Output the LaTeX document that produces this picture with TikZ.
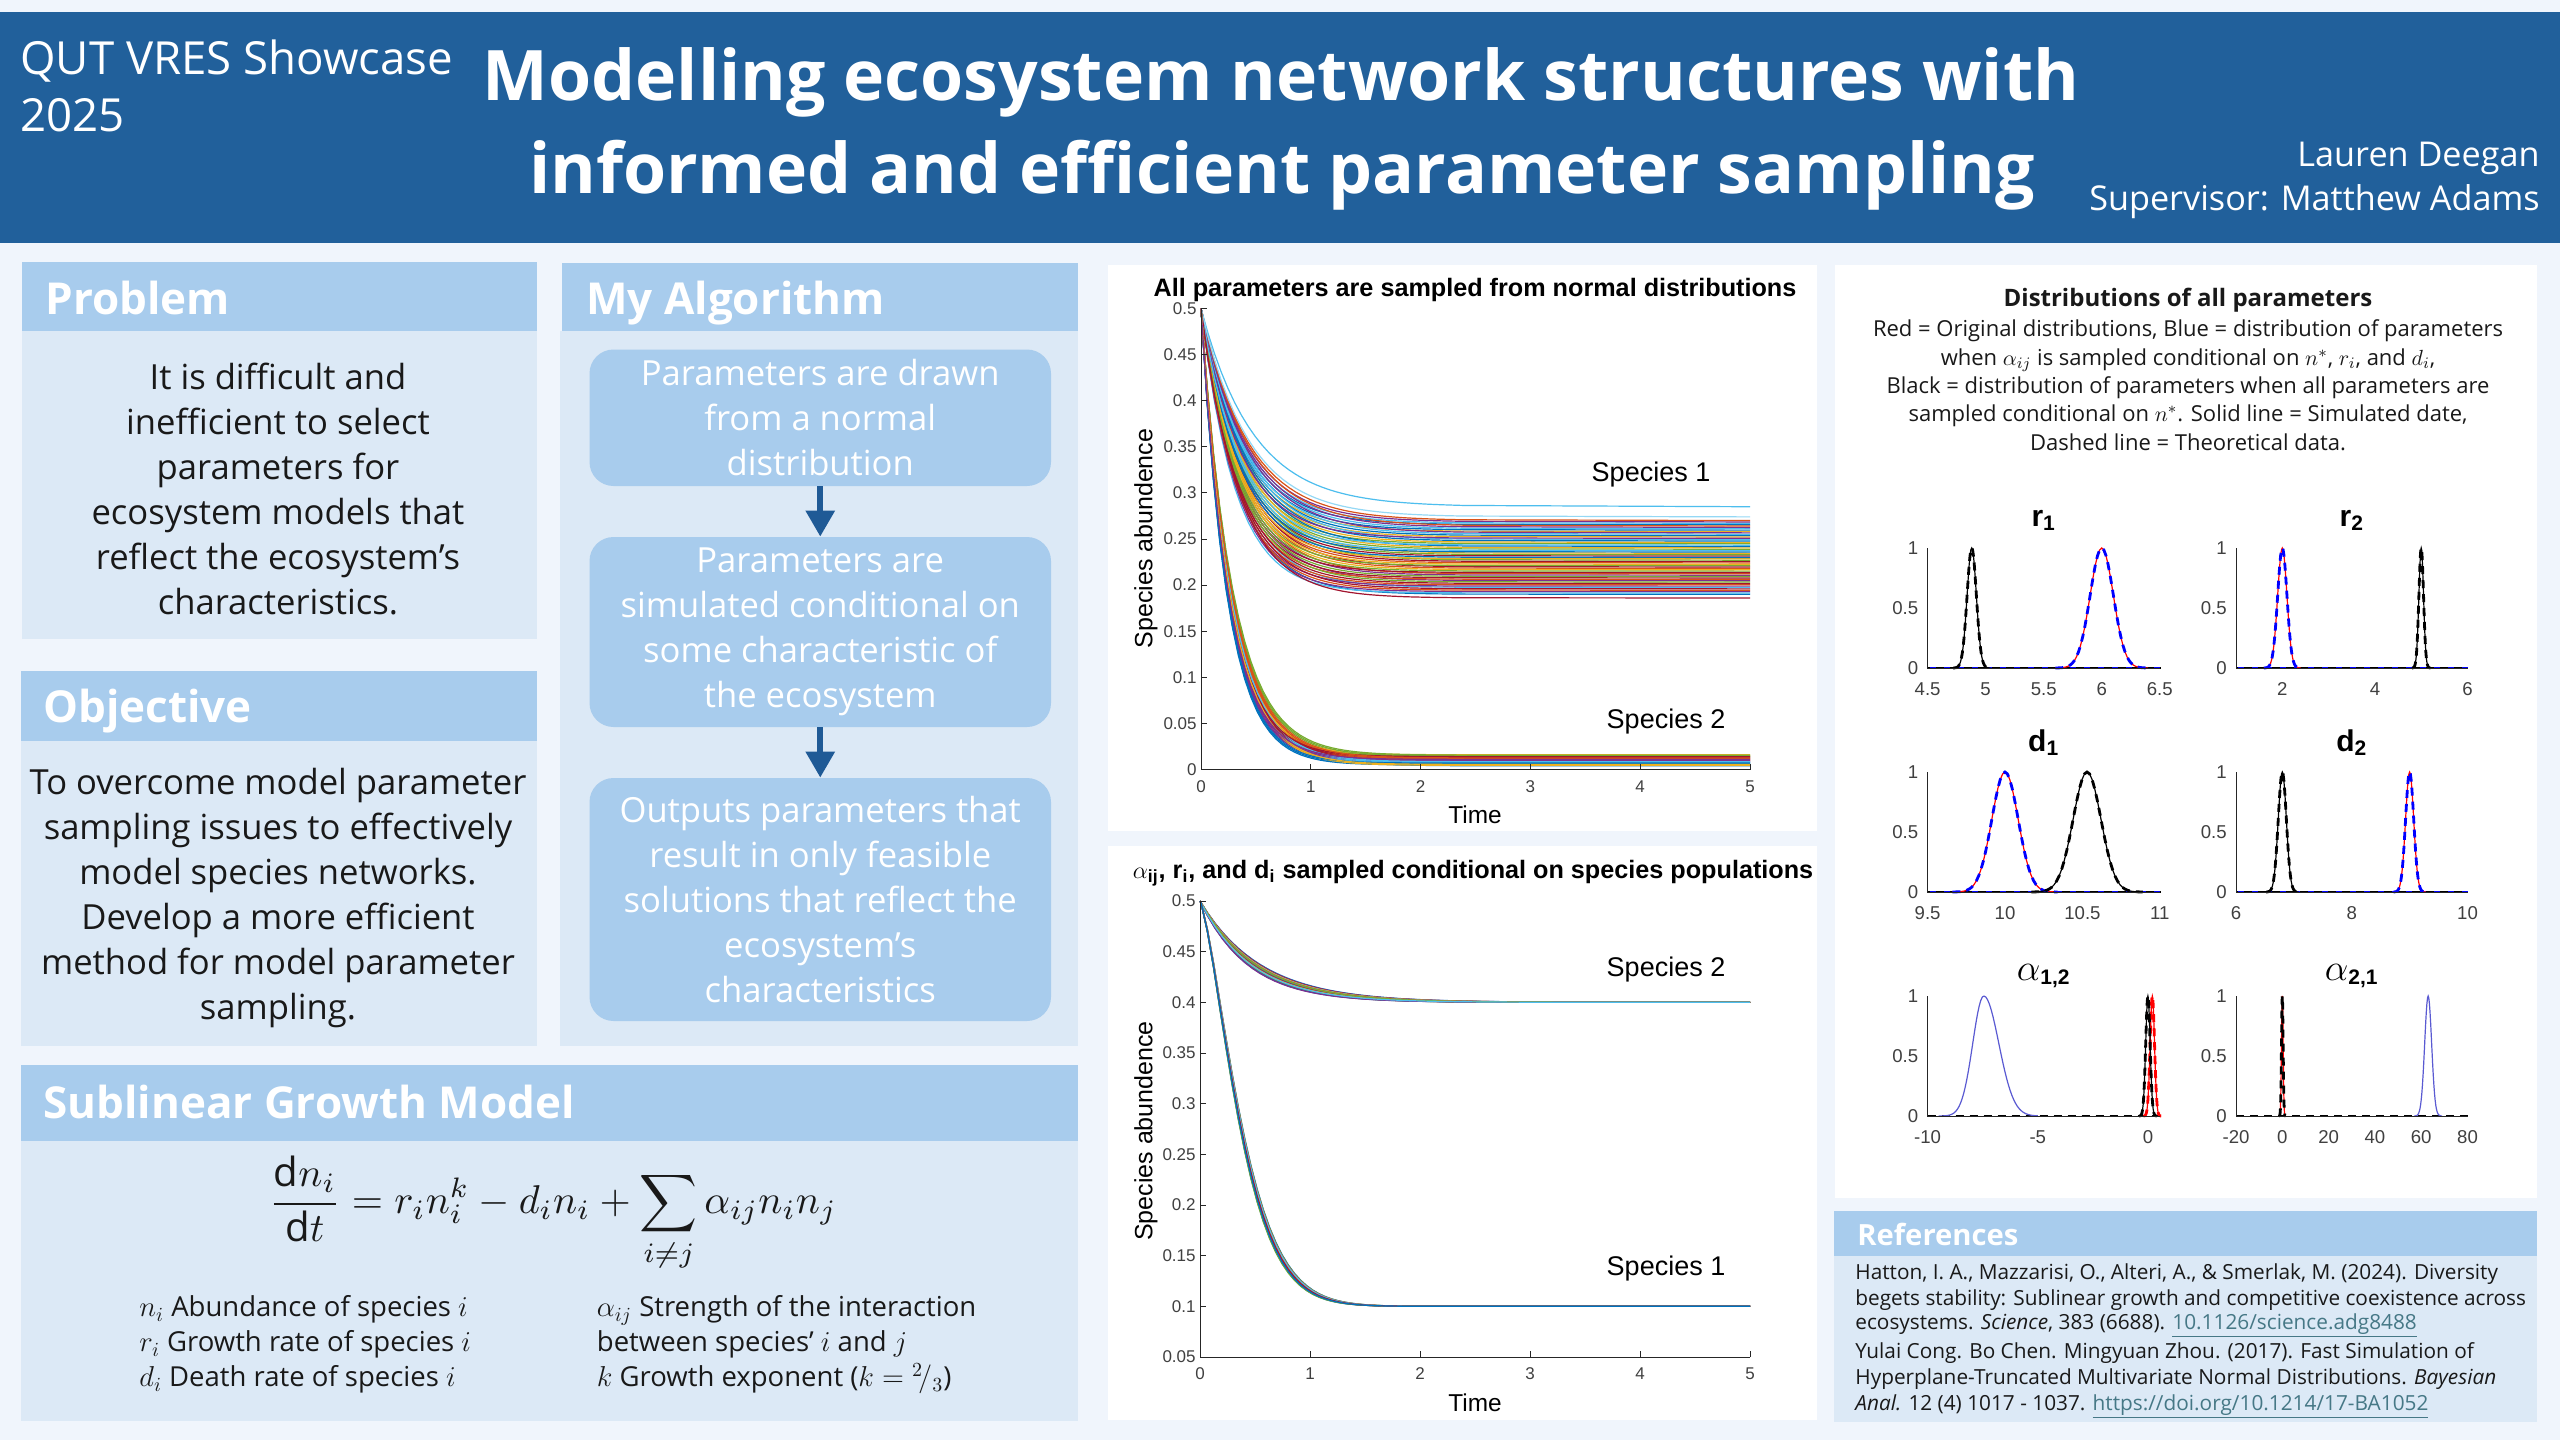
\documentclass[tikz,border=0pt]{standalone}
\usepackage{fontspec}
\setmainfont{Open Sans}
\newfontfamily\pf{Liberation Sans}
\usetikzlibrary{arrows.meta}
\definecolor{bgc}{RGB}{240,245,252}
\definecolor{hdrblue}{RGB}{33,96,155}
\definecolor{phead}{RGB}{168,204,237}
\definecolor{pbody}{RGB}{220,233,246}
\definecolor{arrowblue}{RGB}{31,90,150}
\definecolor{linkc}{RGB}{70,120,134}
\definecolor{axgray}{RGB}{38,38,38}
\definecolor{tickgray}{RGB}{64,64,64}
\definecolor{txt}{RGB}{25,25,25}
\definecolor{mc0}{rgb}{0,0.447,0.741}
\definecolor{mc1}{rgb}{0.85,0.325,0.098}
\definecolor{mc2}{rgb}{0.929,0.694,0.125}
\definecolor{mc3}{rgb}{0.494,0.184,0.556}
\definecolor{mc4}{rgb}{0.466,0.674,0.188}
\definecolor{mc5}{rgb}{0.301,0.745,0.933}
\definecolor{mc6}{rgb}{0.635,0.078,0.184}
\definecolor{thinblue}{RGB}{90,90,210}
\newcommand\gauss[3]{%
  \pgfmathsetmacro\glo{#1-4*#2}\pgfmathsetmacro\ghi{#1+4*#2}%
  \draw[#3] plot[domain=\glo:\ghi, samples=45] (\x,{exp(-((\x-(#1))^2)/(2*(#2)^2))});}
\newcommand\subax[6]{%
  \foreach \tv [count=\tn] in {#6} {\node[dticklab] (#1x\tn) at ({#2+(\tv-(#4))*#5},{#3+21}) {\tv};}
  \node[dticklab, anchor=east] (#1ya) at ({#2-9},#3) {0};
  \node[dticklab, anchor=east] (#1yb) at ({#2-9},{#3-60}) {0.5};
  \node[dticklab, anchor=east] (#1yc) at ({#2-9},{#3-120}) {1};}
\tikzset{
  phtext/.style={anchor=base west, text=white, font=\fontsize{22}{25}\selectfont\bfseries, inner sep=0pt},
  btext/.style={align=center, text=txt, font=\fontsize{17.3}{22.5}\selectfont, inner sep=0pt},
  algbox/.style={fill=phead, rounded corners=12pt, minimum width=230.75pt, text=white, align=center, font=\fontsize{17.3}{22.5}\selectfont, inner sep=0pt},
  algarrow/.style={draw=arrowblue, line width=3pt, -{Triangle[length=13pt, width=14pt]}},
  ticklab/.style={font=\pf\fontsize{8.5}{10}\selectfont, text=tickgray, inner sep=0pt},
  dticklab/.style={font=\pf\fontsize{9.3}{11}\selectfont, text=tickgray, inner sep=0pt},
  axline/.style={draw=axgray, line width=0.5pt},
  curve/.style={line width=0.6pt},
  redl/.style={draw=red, line width=0.6pt},
  bdash/.style={draw=blue, dashed, dash pattern=on 4pt off 3pt, line width=1.4pt},
  ksol/.style={draw=black, line width=0.6pt},
  kdash/.style={draw=black, dash pattern=on 4pt off 3pt, line width=1.4pt},
  bthin/.style={draw=thinblue, line width=0.6pt},
  plab/.style={font=\pf\fontsize{13.5}{15}\selectfont, inner sep=0pt},
  ptitle/.style={font=\pf\bfseries\fontsize{12.6}{14}\selectfont, anchor=base, inner sep=0pt},
  dtitle/.style={font=\pf\bfseries\fontsize{15}{17}\selectfont, anchor=base, inner sep=0pt},
  dline/.style={font=\fontsize{11}{13}\selectfont, text=txt, anchor=base, inner sep=0pt},
  rline/.style={font=\fontsize{10.4}{12}\selectfont, text=txt, anchor=base west, inner sep=0pt},
  defline/.style={font=\fontsize{13.75}{15}\selectfont, text=txt, anchor=base west, inner sep=0pt},
}
\begin{document}
\begin{tikzpicture}[x=0.5pt,y=-0.5pt]
\useasboundingbox (0,0) rectangle (2560,1440);
\fill[bgc] (0,0) rectangle (2560,1440);
% header
\fill[hdrblue] (0,12) rectangle (2560,243);
\node[anchor=base west, text=white, font=\fontsize{22.8}{26}\selectfont, inner sep=0pt] (qut1) at (20,74) {QUT VRES Showcase};
\node[anchor=base west, text=white, font=\fontsize{22.8}{26}\selectfont, inner sep=0pt] (qut2) at (20,131.7) {2025};
\node[anchor=base, text=white, font=\fontsize{34.85}{40}\selectfont\bfseries, inner sep=0pt] (title1) at (1281,100) {Modelling ecosystem network structures with};
\node[anchor=base, text=white, font=\fontsize{34.85}{40}\selectfont\bfseries, inner sep=0pt] (title2) at (1282,193) {informed and efficient parameter sampling};
\node[anchor=base east, text=white, font=\fontsize{17.1}{20}\selectfont, inner sep=0pt] (auth) at (2540,166.7) {Lauren Deegan};
\node[anchor=base east, text=white, font=\fontsize{17.1}{20}\selectfont, inner sep=0pt] (sup) at (2540,210) {Supervisor: Matthew Adams};
% Problem
\fill[phead] (22,262) rectangle (537,331);
\fill[pbody] (22,331) rectangle (537,639);
\node[phtext] (probh) at (45,314) {Problem};
\node[btext] (probt) at (278,488.75) {It is difficult and\\inefficient to select\\parameters for\\ecosystem models that\\reflect the ecosystem’s\\characteristics.};
% Objective
\fill[phead] (21,671) rectangle (537,741);
\fill[pbody] (21,741) rectangle (537,1046);
\node[phtext] (objh) at (43,722) {Objective};
\node[btext] (objt) at (278,898.5) {To overcome model parameter\\sampling issues to effectively\\model species networks.\\Develop a more efficient\\method for model parameter\\sampling.};
% Algorithm
\fill[phead] (562,263) rectangle (1078,331);
\fill[pbody] (560,331) rectangle (1078,1046);
\node[phtext] (algh) at (586,314) {My Algorithm};
\node[algbox, minimum height=68.25pt] (b1) at (820.25,417.75) {Parameters are drawn\\from a normal\\distribution};
\node[algbox, minimum height=95pt] (b2) at (820.25,632) {Parameters are\\simulated conditional on\\some characteristic of\\the ecosystem};
\node[algbox, minimum height=121.5pt] (b3) at (820.25,899.5) {Outputs parameters that\\result in only feasible\\solutions that reflect the\\ecosystem’s\\characteristics};
\draw[algarrow] (b1.south) -- (b2.north);
\draw[algarrow] (b2.south) -- (b3.north);
% Sublinear growth model
\fill[phead] (21,1065) rectangle (1078,1141);
\fill[pbody] (21,1141) rectangle (1078,1421);
\node[phtext] (subh) at (43,1118) {Sublinear Growth Model};
\node[inner sep=0pt, text=txt] (eq) at (553,1214) {\resizebox{284pt}{!}{$\displaystyle \frac{\mathrm{d}n_i}{\mathrm{d}t} = r_i n_i^k - d_i n_i + \sum_{i\neq j} \alpha_{ij} n_i n_j$}};
\node[defline] (def1) at (139,1316.7) {$n_i$ Abundance of species $i$};
\node[defline] (def2) at (139,1351.7) {$r_i$ Growth rate of species $i$};
\node[defline] (def3) at (139,1386.7) {$d_i$ Death rate of species $i$};
\node[defline] (def4) at (596.5,1316.7) {$\alpha_{ij}$ Strength of the interaction};
\node[defline] (def5) at (596.5,1351.7) {between species’ $i$ and $j$};
\node[defline] (def6) at (596.5,1386.7) {$k$ Growth exponent ($k={}^2\!/_3$)};
% Plot 1
\fill[white] (1108,265) rectangle (1817,831);
\node[ptitle] (p1t) at (1475,296) {All parameters are sampled from normal distributions};
\begin{scope}[shift={(1201,769.5)}, xscale=109.8, yscale=-922]
  \foreach \i in {0,...,54} {
    \pgfmathsetmacro\sv{0.19+0.08*mod(\i*23,55)/54}
    \pgfmathsetmacro\kv{2.25+0.7*(0.27-\sv)/0.08+0.3*mod(\i*7,5)/4}
    \pgfmathtruncatemacro\cv{mod(\i,7)}
    \draw[curve, draw=mc\cv] plot[domain=0:2.4, samples=40] (\x,{\sv+(0.5-\sv)*exp(-\kv*\x)}) -- (5,\sv);
  }
  \draw[curve, draw=mc5] plot[domain=0:2.4, samples=40] (\x,{0.285+0.215*exp(-2.1*\x)}) -- (5,0.285);
  \draw[curve, draw=mc5!60] plot[domain=0:2.4, samples=40] (\x,{0.274+0.226*exp(-2.3*\x)}) -- (5,0.274);
  \draw[curve, draw=mc6] plot[domain=0:2.4, samples=40] (\x,{0.186+0.314*exp(-2.9*\x)}) -- (5,0.186);
  \foreach \i in {0,...,24} {
    \pgfmathsetmacro\sv{0.004+0.012*mod(\i*11,25)/24}
    \pgfmathsetmacro\kv{3.4+0.8*mod(\i*7,25)/24}
    \pgfmathtruncatemacro\cv{mod(\i,7)}
    \draw[curve, draw=mc\cv] plot[domain=0:2.5, samples=45] (\x,{\sv+(0.5-\sv)*exp(-\kv*\x)}) -- (5,\sv);
  }
  \draw[axline] (0,0.5) -- (0,0) -- (5,0);
  \foreach \tq in {1,...,5} \draw[axline] (\tq,0) -- (\tq,0.006);
  \foreach \vq in {0.05,0.1,0.15,0.2,0.25,0.3,0.35,0.4,0.45,0.5} \draw[axline] (0,\vq) -- (0.05,\vq);
\end{scope}
\foreach \tq in {0,...,5} \node[ticklab] (p1x\tq) at ({1201+109.8*\tq},786.5) {\tq};
\foreach \vq [count=\nq] in {0,0.05,0.1,0.15,0.2,0.25,0.3,0.35,0.4,0.45,0.5} \node[ticklab, anchor=east] (p1y\nq) at (1197,{769.5-922*\vq}) {\vq};
\node[plab] (p1s1) at (1651,474.5) {Species 1};
\node[plab] (p1s2) at (1666,722) {Species 2};
\node[font=\pf\fontsize{12.2}{14}\selectfont, inner sep=0pt] (p1time) at (1475,815) {Time};
\node[font=\pf\fontsize{12.5}{14}\selectfont, inner sep=0pt, rotate=90] (p1ylab) at (1146,538.5) {Species abundence};
% Plot 2
\fill[white] (1108,846) rectangle (1817,1420);
\node[ptitle] (p2t) at (1473,878) {$\alpha$\textsubscript{ij}, r\textsubscript{i}, and d\textsubscript{i} sampled conditional on species populations};
\begin{scope}[shift={(1200,1357)}, xscale=110, yscale=-1013.3, shift={(0,-0.05)}]
  \foreach \i in {0,...,19} {
    \pgfmathsetmacro\kv{1.8+0.5*mod(\i*7,20)/19}
    \pgfmathtruncatemacro\cv{mod(\i,7)}
    \draw[curve, draw=mc\cv] plot[domain=0:3, samples=45] (\x,{0.4+0.1*exp(-\kv*\x)}) -- (5,0.4);
  }
  \foreach \i in {0,...,14} {
    \pgfmathsetmacro\kv{3.1+0.3*mod(\i*4,15)/14}
    \pgfmathtruncatemacro\cv{mod(\i,7)}
    \draw[curve, draw=mc\cv] (0,0.5) -- plot[domain=0.01:2.5, samples=45] (\x,{0.1+0.4*exp(-\kv*\x^1.4)}) -- (5,0.1);
  }
  \draw[axline] (0,0.5) -- (0,0.05) -- (5,0.05);
  \foreach \tq in {1,...,5} \draw[axline] (\tq,0.05) -- (\tq,0.056);
  \foreach \vq in {0.1,0.15,0.2,0.25,0.3,0.35,0.4,0.45,0.5} \draw[axline] (0,\vq) -- (0.05,\vq);
\end{scope}
\foreach \tq in {0,...,5} \node[ticklab] (p2x\tq) at ({1200+110*\tq},1374) {\tq};
\foreach \vq [count=\nq] in {0.05,0.1,0.15,0.2,0.25,0.3,0.35,0.4,0.45,0.5} \node[ticklab, anchor=east] (p2y\nq) at (1196,{1357-1013.3*(\vq-0.05)}) {\vq};
\node[plab] (p2s2) at (1666,970) {Species 2};
\node[plab] (p2s1) at (1666,1268.6) {Species 1};
\node[font=\pf\fontsize{12.2}{14}\selectfont, inner sep=0pt] (p2time) at (1475,1402.6) {Time};
\node[font=\pf\fontsize{12.5}{14}\selectfont, inner sep=0pt, rotate=90] (p2ylab) at (1146,1131) {Species abundence};
% Distributions panel
\fill[white] (1835,265) rectangle (2537,1198);
\node[anchor=base, font=\fontsize{12}{14}\selectfont\bfseries, text=txt, inner sep=0pt] (dhead) at (2188,306) {Distributions of all parameters};
\node[dline] (dl1) at (2188,336) {Red = Original distributions, Blue = distribution of parameters};
\node[dline] (dl2) at (2188,365) {when $\alpha_{ij}$ is sampled conditional on $n^*$, $r_i$, and $d_i$,};
\node[dline] (dl3) at (2188,393) {Black = distribution of parameters when all parameters are};
\node[dline] (dl4) at (2188,421.7) {sampled conditional on $n^*$. Solid line = Simulated date,};
\node[dline] (dl5) at (2188,450) {Dashed line = Theoretical data.};
% r1
\begin{scope}[shift={(1927.6,668)}, xscale=116.1, yscale=-120, shift={(-4.5,0)}]
  \draw[bdash] (4.5,0) -- (6.5,0);
  \draw[kdash, dash phase=3pt] (4.5,0) -- (6.5,0);
  \gauss{6}{0.1}{redl}
  \gauss{6}{0.1}{bdash}
  \gauss{4.88}{0.04}{ksol}
  \gauss{4.88}{0.04}{kdash}
  \draw[axline] (4.5,1) -- (4.5,0) -- (6.5,0);
\end{scope}
\subax{r1}{1927.6}{668}{4.5}{116.1}{4.5,5,5.5,6,6.5}
\node[dtitle] (tr1) at (2043.7,526) {r\textsubscript{1}};
% r2
\begin{scope}[shift={(2236,668)}, xscale=46.3, yscale=-120, shift={(-1,0)}]
  \draw[bdash] (1,0) -- (6,0);
  \draw[kdash, dash phase=3pt] (1,0) -- (6,0);
  \gauss{2}{0.1}{redl}
  \gauss{2}{0.1}{bdash}
  \gauss{5}{0.05}{ksol}
  \gauss{5}{0.05}{kdash}
  \draw[axline] (1,1) -- (1,0) -- (6,0);
\end{scope}
\subax{r2}{2236}{668}{1}{46.3}{2,4,6}
\node[dtitle] (tr2) at (2351.75,526) {r\textsubscript{2}};
% d1
\begin{scope}[shift={(1927.6,892)}, xscale=154.8, yscale=-120, shift={(-9.5,0)}]
  \draw[bdash] (9.5,0) -- (11,0);
  \draw[kdash, dash phase=3pt] (9.5,0) -- (11,0);
  \gauss{10}{0.085}{redl}
  \gauss{10}{0.085}{bdash}
  \gauss{10.53}{0.09}{ksol}
  \gauss{10.53}{0.09}{kdash}
  \draw[axline] (9.5,1) -- (9.5,0) -- (11,0);
\end{scope}
\subax{d1}{1927.6}{892}{9.5}{154.8}{9.5,10,10.5,11}
\node[dtitle] (td1) at (2043.7,751) {d\textsubscript{1}};
% d2
\begin{scope}[shift={(2236,892)}, xscale=57.875, yscale=-120, shift={(-6,0)}]
  \draw[bdash] (6,0) -- (10,0);
  \draw[kdash, dash phase=3pt] (6,0) -- (10,0);
  \gauss{9}{0.07}{redl}
  \gauss{9}{0.07}{bdash}
  \gauss{6.8}{0.07}{ksol}
  \gauss{6.8}{0.07}{kdash}
  \draw[axline] (6,1) -- (6,0) -- (10,0);
\end{scope}
\subax{d2}{2236}{892}{6}{57.875}{6,8,10}
\node[dtitle] (td2) at (2351.75,751) {d\textsubscript{2}};
% alpha12
\begin{scope}[shift={(1927.6,1116)}, xscale=22.03, yscale=-120, shift={(10,0)}]
  \draw[kdash] (-10,0) -- (0.54,0);
  \draw[bthin] plot[domain=-9.5:-7.45, samples=30] (\x,{exp(-((\x+7.45)^2)/(2*0.5^2))});
  \draw[bthin] plot[domain=-7.45:-5, samples=30] (\x,{exp(-((\x+7.45)^2)/(2*0.68^2))});
  \gauss{0.2}{0.1}{redl}
  \gauss{0.2}{0.1}{draw=red, line width=1.4pt, dash pattern=on 4pt off 3pt}
  \gauss{0}{0.1}{ksol}
  \gauss{0}{0.1}{kdash}
  \draw[axline] (-10,1) -- (-10,0) -- (0.54,0);
\end{scope}
\subax{a12}{1927.6}{1116}{-10}{22.03}{-10,-5,0}
\node[dtitle] (ta12) at (2043.7,980) {\scalebox{1.3}{$\alpha$}\textsubscript{1,2}};
% alpha21
\begin{scope}[shift={(2236,1116)}, xscale=2.315, yscale=-120, shift={(20,0)}]
  \draw[kdash] (-20,0) -- (80,0);
  \gauss{63}{1.5}{bthin}
  \gauss{0}{0.35}{redl}
  \gauss{0}{0.35}{kdash}
  \draw[axline] (-20,1) -- (-20,0) -- (80,0);
\end{scope}
\subax{a21}{2236}{1116}{-20}{2.315}{-20,0,20,40,60,80}
\node[dtitle] (ta21) at (2351.75,980) {\scalebox{1.3}{$\alpha$}\textsubscript{2,1}};
% References
\fill[phead] (1834,1211) rectangle (2537,1256);
\fill[pbody] (1834,1256) rectangle (2537,1422);
\node[anchor=base west, text=white, font=\fontsize{14.6}{17}\selectfont\bfseries, inner sep=0pt] (refh) at (1857,1245) {References};
\node[rline] (rl1) at (1855,1279) {Hatton, I. A., Mazzarisi, O., Alteri, A., \& Smerlak, M. (2024). Diversity};
\node[rline] (rl2) at (1855,1305) {begets stability: Sublinear growth and competitive coexistence across};
\node[rline] (rl3) at (1855,1329) {ecosystems. \textit{Science}, 383 (6688). \textcolor{linkc}{\underline{10.1126/science.adg8488}}};
\node[rline] (rl4) at (1855,1358) {Yulai Cong. Bo Chen. Mingyuan Zhou. (2017). Fast Simulation of};
\node[rline] (rl5) at (1855,1384) {Hyperplane-Truncated Multivariate Normal Distributions. \textit{Bayesian}};
\node[rline] (rl6) at (1855,1410) {\textit{Anal.} 12 (4) 1017 - 1037. \textcolor{linkc}{\underline{https://doi.org/10.1214/17-BA1052}}};
\end{tikzpicture}
\end{document}
